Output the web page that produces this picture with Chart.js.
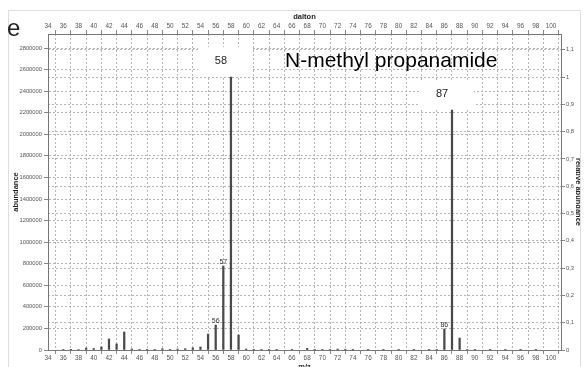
<!DOCTYPE html>
<html>
<head>
<meta charset="utf-8">
<script src="https://cdn.jsdelivr.net/npm/chart.js@4.4.1/dist/chart.umd.min.js"></script>
<style>
  html, body { margin: 0; padding: 0; background: #fff; }
  canvas { display: block; }
</style>
</head>
<body>
<canvas id="spectrum" width="584" height="367"></canvas>
<script>
// m/z values and abundances
const mz = [36, 37, 38, 39, 40, 41, 42, 43, 44, 45, 46, 47, 48, 49, 50, 51, 52, 53, 54, 55,
            56, 57, 58, 59, 60, 61, 62, 63, 64, 66, 68, 69, 70, 71, 72, 73, 74, 76, 78, 80,
            82, 84, 85, 86, 87, 88, 89, 90, 92, 94, 96, 98];
const abundance = [4000, 2000, 5000, 18000, 14000, 28000, 102000, 56000, 167000, 10000, 3000, 2000, 3000, 12000, 3000, 9000, 12000, 20000, 28000, 148000,
                   232000, 779000, 2530000, 139000, 9000, 3000, 2000, 2000, 2000, 2000, 15000, 3000, 2000, 3000, 9000, 7000, 2000, 2000, 2000, 2000,
                   2000, 2000, 6000, 195000, 2225000, 111000, 5000, 2000, 2000, 2000, 2000, 2000];

// tick values shown on the axes
const mzTicks = [34, 36, 38, 40, 42, 44, 46, 48, 50, 52, 54, 56, 58, 60, 62, 64, 66, 68, 70,
                 72, 74, 76, 78, 80, 82, 84, 86, 88, 90, 92, 94, 96, 98, 100];
const abundanceTicks = [0, 200000, 400000, 600000, 800000, 1000000, 1200000, 1400000,
                        1600000, 1800000, 2000000, 2200000, 2400000, 2600000, 2800000];
const relativeTicks = [0, 0.1, 0.2, 0.3, 0.4, 0.5, 0.6, 0.7, 0.8, 0.9, 1, 1.1];

// peaks with labels
const smallLabelPeaks = [56, 57, 86];
const boxedLabelPeaks = [58, 87];

const compoundName = 'N-methyl propanamide';
const panelLetter = 'e';

const basePeak = Math.max(...abundance);
const mzMax = 101.3;
const abundanceMax = 2930000;

const gridColor = '#b4b4b4';
const tickFont = { family: 'Liberation Sans', size: 6.4 };
const yTickFont = { family: 'Liberation Sans', size: 5.8 };
const titleFont = { family: 'Liberation Sans', size: 7.5, weight: 'bold' };

function abundanceOf(m) {
    return abundance[mz.indexOf(m)];
}

function useTicks(values) {
    return scale => {
        scale.ticks = values.map(v => ({ value: v }));
    };
}

const annotations = {
    id: 'annotations',
    beforeDraw(chart) {
        const ctx = chart.ctx;
        ctx.save();
        ctx.fillStyle = '#fff';
        ctx.fillRect(0, 0, chart.width, chart.height);
        ctx.restore();
    },
    afterDraw(chart) {
        const ctx = chart.ctx;
        const x = chart.scales.x;
        const y = chart.scales.y;
        ctx.save();

        // frame round the panel
        ctx.strokeStyle = '#dedede';
        ctx.lineWidth = 1;
        ctx.strokeRect(8.5, 10.5, 572, 360);

        ctx.fillStyle = '#222';
        ctx.font = '24px "Liberation Sans"';
        ctx.textBaseline = 'middle';
        ctx.textAlign = 'left';
        ctx.fillText(panelLetter, 7, 29);

        ctx.fillStyle = '#000';
        ctx.font = '21px "Liberation Sans"';
        ctx.fillText(compoundName, 285, 61);

        // boxed labels for the two main peaks
        boxedLabelPeaks.forEach(m => {
            const px = x.getPixelForValue(m);
            const py = y.getPixelForValue(abundanceOf(m));
            ctx.fillStyle = '#fff';
            ctx.fillRect(px - 33, py - 30, 55, 29);
            ctx.fillStyle = '#222';
            ctx.font = '11px "Liberation Sans"';
            ctx.textAlign = 'center';
            ctx.fillText(String(m), px - 10, py - 16);
        });

        smallLabelPeaks.forEach(m => {
            const px = x.getPixelForValue(m);
            const py = y.getPixelForValue(abundanceOf(m));
            ctx.fillStyle = '#333';
            ctx.font = '7px "Liberation Sans"';
            ctx.textAlign = 'center';
            ctx.fillText(String(m), px, py - 4);
        });
        ctx.restore();
    }
};

const xTicks = {
    font: tickFont,
    color: '#555',
    padding: 0,
    maxRotation: 0,
    autoSkip: false
};

const dotted = { color: '#777', dash: [2, 2] };

new Chart(document.getElementById('spectrum'), {
    type: 'bar',
    data: {
        datasets: [{
            data: mz.map((m, i) => ({ x: m, y: abundance[i] })),
            backgroundColor: '#4a4a4a',
            barThickness: 1.6,
            xAxisID: 'x',
            yAxisID: 'y'
        }]
    },
    options: {
        responsive: false,
        animation: false,
        layout: { padding: 0 },
        plugins: {
            legend: { display: false },
            tooltip: { enabled: false }
        },
        scales: {
            x: {
                type: 'linear',
                position: 'bottom',
                min: mzTicks[0],
                max: mzMax,
                offset: false,
                ticks: xTicks,
                afterBuildTicks: useTicks(mzTicks),
                afterFit: s => { s.height = 17; },
                grid: { color: gridColor, tickLength: 4, tickColor: '#888', tickBorderDash: [] },
                border: dotted,
                title: { display: true, text: 'm/z', color: '#222', font: titleFont, padding: { top: 0, bottom: -4 } }
            },
            x2: {
                type: 'linear',
                position: 'top',
                min: mzTicks[0],
                max: mzMax,
                offset: false,
                ticks: xTicks,
                afterBuildTicks: useTicks(mzTicks),
                afterFit: s => { s.height = 34; },
                grid: { drawOnChartArea: false, tickLength: 4, tickColor: '#888' },
                border: { color: '#777' },
                title: { display: true, text: 'dalton', color: '#222', font: titleFont, padding: { top: 12, bottom: 0 } }
            },
            y: {
                type: 'linear',
                position: 'left',
                min: 0,
                max: abundanceMax,
                ticks: { autoSkip: false, font: yTickFont, color: '#555', padding: 2, callback: v => String(v) },
                afterBuildTicks: useTicks(abundanceTicks),
                afterFit: s => { s.width = 48; },
                grid: { color: gridColor, tickLength: 4, tickColor: '#888', tickBorderDash: [] },
                border: dotted,
                title: { display: true, text: 'abundance', color: '#222', font: titleFont, padding: { top: 11, bottom: 0 } }
            },
            y2: {
                type: 'linear',
                position: 'right',
                min: 0,
                max: abundanceMax / basePeak,
                ticks: {
                    autoSkip: false,
                    font: yTickFont,
                    color: '#555',
                    padding: 1,
                    callback: v => String(v).replace('.', ',')
                },
                afterBuildTicks: useTicks(relativeTicks),
                afterFit: s => { s.width = 23; },
                grid: { color: gridColor, tickLength: 4, tickColor: '#888', tickBorderDash: [] },
                border: dotted,
                title: { display: true, text: 'relative abundance', color: '#222', font: titleFont, padding: { top: 1, bottom: 0 } }
            }
        }
    },
    plugins: [annotations]
});
</script>
</body>
</html>
